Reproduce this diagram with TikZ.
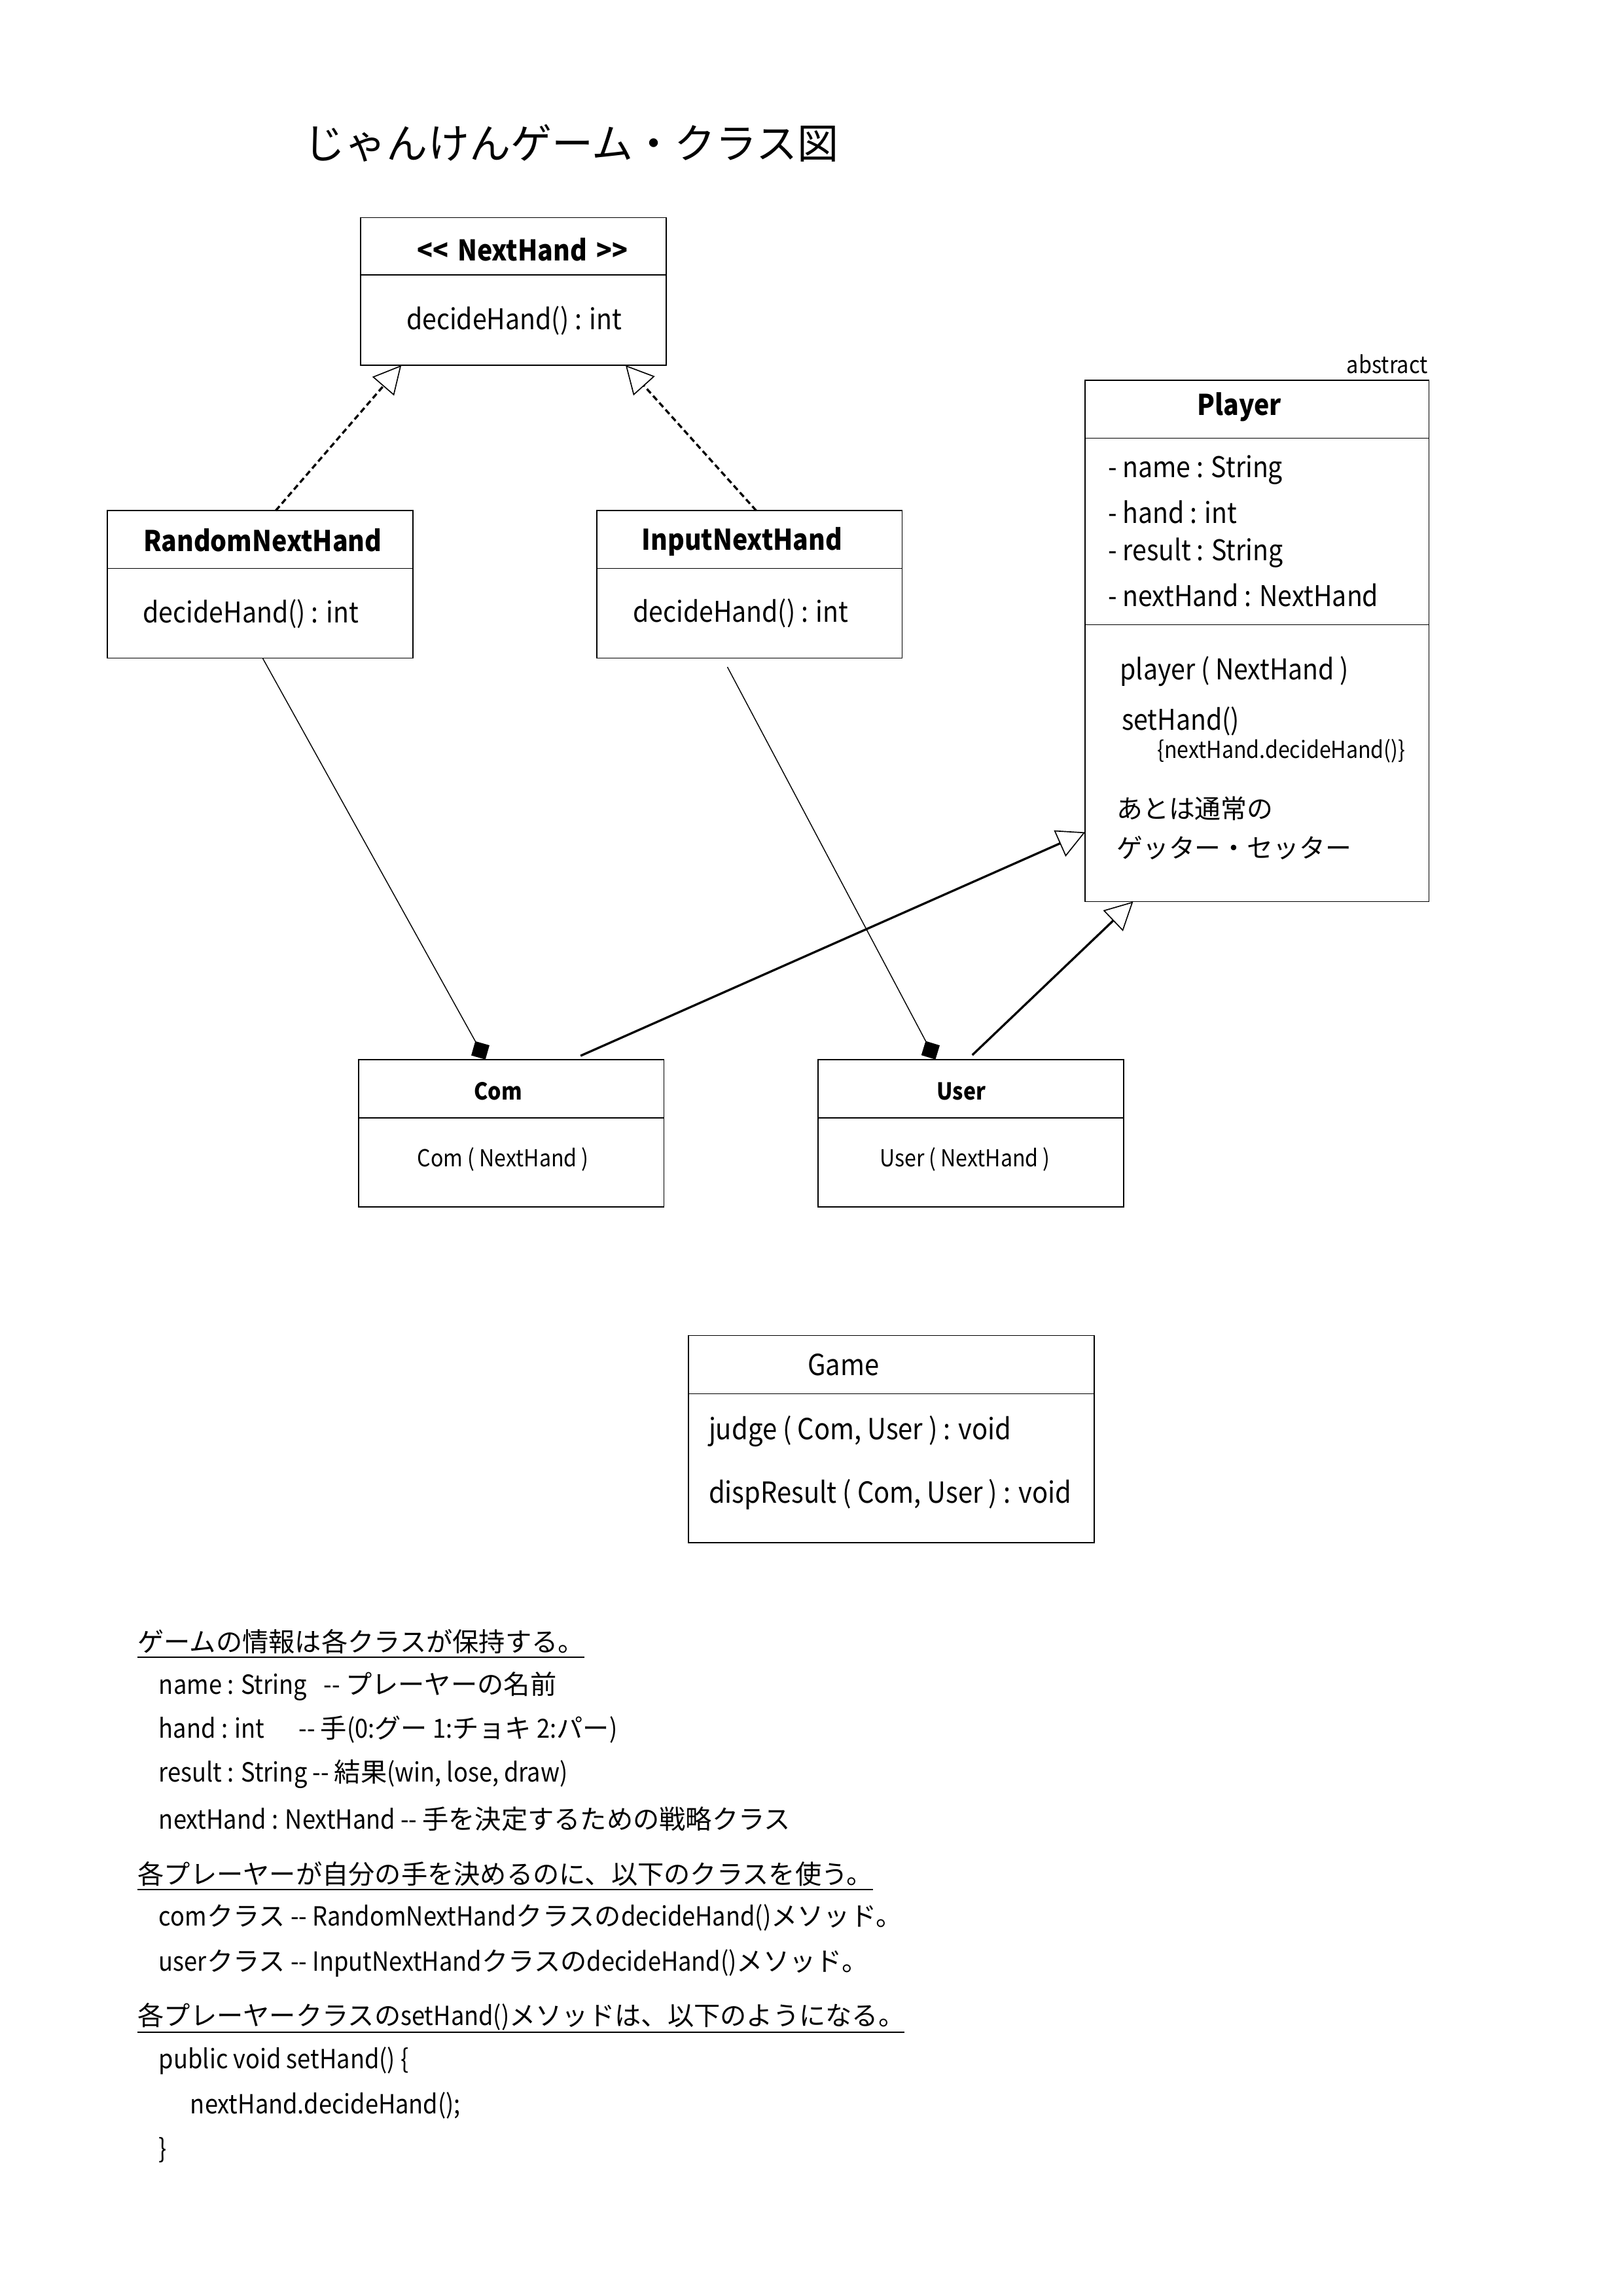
\documentclass[tikz,border=0pt]{standalone}
\usepackage{fontspec}
\setmainfont{Noto Sans CJK JP}[FakeStretch=0.9]
\newfontfamily\jp{Noto Sans CJK JP}
\usetikzlibrary{arrows.meta}
\newcommand\twodash{\mbox{-}\mbox{-}}
\newcommand\ltlt{\mbox{<}\mbox{<}}
\newcommand\gtgt{\mbox{>}\mbox{>}}

\begin{document}
\begin{tikzpicture}[x=0.190909mm,y=-0.190909mm,
  class/.style={draw,line width=0.4pt,inner sep=0pt,outer sep=0pt,minimum width=39.52mm,minimum height=19.09mm},
  cname/.style={inner sep=0pt,font=\fontsize{10.5}{12}\selectfont\bfseries},
  member/.style={inner sep=0pt,font=\fontsize{10.5}{12}\selectfont},
  small/.style={inner sep=0pt,font=\fontsize{8.6}{10}\selectfont},
  note/.style={inner sep=0pt,anchor=west,font=\fontsize{9.7}{12}\selectfont},
  realize/.style={line width=0.8pt,dash pattern=on 0.75mm off 0.45mm,-{Triangle[open,length=3.6mm,width=3.7mm,line width=0.4pt]}},
  inherit/.style={line width=0.8pt,-{Triangle[open,length=3.6mm,width=3.7mm,line width=0.4pt]}},
  compose/.style={line width=0.35pt,-{Diamond[length=2.7mm,width=2.7mm]}}]

            \useasboundingbox (0,0) rectangle (1100,1556);

            \node[anchor=west,inner sep=0pt,font=\fontsize{15.2}{18}\selectfont\jp] (title) at (205.8,97) {じゃんけんゲーム・クラス図};

            \node[class] (nexthand) at (348,197.5) {};
            \node[class] (rnh) at (176.3,396) {};
            \node[class] (inh) at (508,396) {};
            \node[class,minimum width=44.48mm,minimum height=67.47mm] (player) at (852,434.3) {};
            \node[class] (com) at (346.5,768) {};
            \node[class] (user) at (658,768) {};
            \node[class,minimum width=52.5mm,minimum height=26.82mm] (game) at (604,975.3) {};

            \draw[line width=0.4pt] ([yshift=-7.43mm]nexthand.north west) -- ([yshift=-7.43mm]nexthand.north east);
            \draw[line width=0.4pt] ([yshift=-7.5mm]rnh.north west) -- ([yshift=-7.5mm]rnh.north east);
            \draw[line width=0.4pt] ([yshift=-7.5mm]inh.north west) -- ([yshift=-7.5mm]inh.north east);
            \draw[line width=0.4pt] ([yshift=-7.52mm]player.north west) -- ([yshift=-7.52mm]player.north east);
            \draw[line width=0.4pt] ([yshift=-31.65mm]player.north west) -- ([yshift=-31.65mm]player.north east);
            \draw[line width=0.4pt] ([yshift=-7.56mm]com.north west) -- ([yshift=-7.56mm]com.north east);
            \draw[line width=0.4pt] ([yshift=-7.56mm]user.north west) -- ([yshift=-7.56mm]user.north east);
            \draw[line width=0.4pt] ([yshift=-7.54mm]game.north west) -- ([yshift=-7.54mm]game.north east);

            \node[cname] (nexthandname) at (354,169) {\ltlt\hspace{1.2mm}NextHand\hspace{1.2mm}\gtgt};
            \node[member] (nexthandop) at (348.5,217.3) {decideHand() : int};
            \node[cname] (rnhname) at (178,366) {RandomNextHand};
            \node[member] (rnhop) at (170,416) {decideHand() : int};
            \node[cname] (inhname) at (503,367.2) {InputNextHand};
            \node[member] (inhop) at (502,415.8) {decideHand() : int};

            \node[small,anchor=east,font=\fontsize{8.7}{10}\selectfont] (abstract) at (968,246.8) {abstract};
            \node[cname] (playername) at (840,276) {Player};
            \node[member,anchor=west] (attrname) at (750.6,318.5) {- name : String};
            \node[member,anchor=west] (attrhand) at (750.6,347.2) {- hand : int};
            \node[member,anchor=west] (attrresult) at (750.6,374.8) {- result : String};
            \node[member,anchor=west] (attrnext) at (750.6,403.5) {- nextHand : NextHand};
            \node[member,anchor=west] (ctor) at (758.8,455) {player ( NextHand )};
            \node[member,anchor=west] (sethand) at (760,488.7) {setHand()};
            \node[small,anchor=west] (sethandbody) at (784,508.9) {\{nextHand.decideHand()\}};
            \node[note,font=\fontsize{9.6}{12}\selectfont\jp] (getset1) at (756.5,548) {あとは通常の};
            \node[note,font=\fontsize{9.6}{12}\selectfont\jp] (getset2) at (756.5,574.4) {ゲッター・セッター};

            \node[small,font=\fontsize{8.6}{10}\selectfont\bfseries] (comname) at (337.6,739.5) {Com};
            \node[small] (comop) at (341,785.6) {Com ( NextHand )};
            \node[small,font=\fontsize{8.6}{10}\selectfont\bfseries] (username) at (651.6,739.5) {User};
            \node[small] (userop) at (654,785.6) {User ( NextHand )};

            \node[member,anchor=west,font=\fontsize{10.7}{13}\selectfont] (gamename) at (547,925) {Game};
            \node[member,anchor=west,font=\fontsize{10.7}{13}\selectfont] (judge) at (480,970) {judge ( Com, User ) : void};
            \node[member,anchor=west,font=\fontsize{10.7}{13}\selectfont] (disp) at (480,1013) {dispResult ( Com, User ) : void};

            \draw[realize] ([shift={(10.6,0)}]rnh.north) -- ([shift={(-76,0)}]nexthand.south);
            \draw[realize] ([shift={(4.5,0)}]inh.north) -- ([shift={(76,0)}]nexthand.south);
            \draw[compose] ([shift={(1.7,0)}]rnh.south) -- ([shift={(-17.5,0)}]com.north);
            \draw[compose] ([shift={(-15,6)}]inh.south) -- ([shift={(-24,0)}]user.north);
            \draw[inherit] ([shift={(47,-2.5)}]com.north) -- ([shift={(0,129.7)}]player.west);
            \draw[inherit] ([shift={(1,-3)}]user.north) -- ([shift={(-84,0)}]player.south);

            \node[note] (info) at (93,1112.4) {\jp ゲームの情報は各クラスが保持する。};
            \node[note] (infoname) at (107.4,1142.6) {name : String\hspace{2.2mm}\twodash{} {\jp プレーヤーの名前}};
            \node[note] (infohand) at (107.4,1172.2) {hand : int\hspace{4.4mm}\twodash{} {\jp 手}(0:{\jp グー} 1:{\jp チョキ} 2:{\jp パー})};
            \node[note] (inforesult) at (107.4,1202.4) {result : String \twodash{} {\jp 結果}(win, lose, draw)};
            \node[note] (infonext) at (107.4,1232.6) {nextHand : NextHand \twodash{} {\jp 手を決定するための戦略クラス}};
            \node[note] (strategy) at (93,1270) {\jp 各プレーヤーが自分の手を決めるのに、以下のクラスを使う。};
            \node[note] (strategycom) at (107.4,1299.4) {com{\jp クラス} \twodash{} RandomNextHand{\jp クラスの}decideHand(){\jp メソッド。}};
            \node[note] (strategyuser) at (107.4,1330.3) {user{\jp クラス} \twodash{} InputNextHand{\jp クラスの}decideHand(){\jp メソッド。}};
            \node[note] (code) at (93,1366.9) {{\jp 各プレーヤークラスの}setHand(){\jp メソッドは、以下のようになる。}};
            \node[note] (code1) at (107.4,1396.8) {public void setHand() \{};
            \node[note] (code2) at (128.7,1427) {nextHand.decideHand();};
            \node[note] (code3) at (107.4,1457) {\}};

            \draw[line width=0.4pt] (93,1123.1) -- (396,1123.1);
            \draw[line width=0.4pt] (93,1280.6) -- (591.8,1280.6);
            \draw[line width=0.4pt] (93,1377.2) -- (612.8,1377.2);

            ;
        \end{tikzpicture}
\end{document}
